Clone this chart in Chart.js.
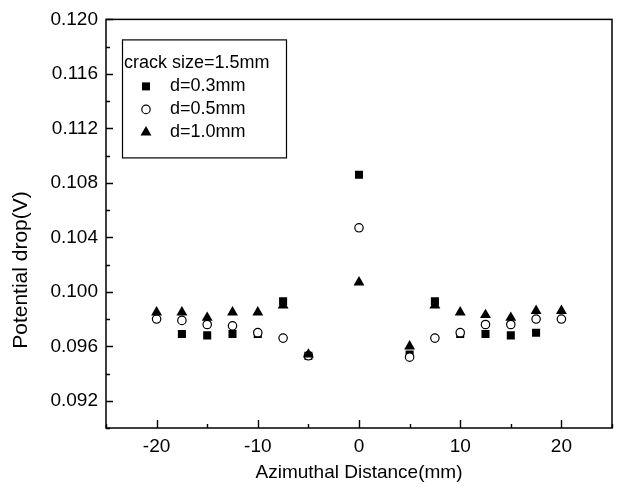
<!DOCTYPE html>
<html>
<head>
<meta charset="utf-8">
<script src="https://cdn.jsdelivr.net/npm/chart.js@4"></script>
<style>
  html, body { margin: 0; padding: 0; background: #fff; }
  #wrap { width: 622px; height: 497px; }
</style>
</head>
<body>
<div id="wrap"><canvas id="pdChart"></canvas></div>
<script>
// azimuthal positions (mm)
const distances = [-20, -17.5, -15, -12.5, -10, -7.5, -5, 0, 5, 7.5, 10, 12.5, 15, 17.5, 20]
// potential drop (V), crack size 1.5mm
const drop03 = [null, 0.0969, 0.0968, 0.0969, 0.0969, 0.0993, 0.0953, 0.1086, 0.0954, 0.0993, 0.0969, 0.0969, 0.0968, 0.0970, null]
const drop05 = [0.0980, 0.0979, 0.0976, 0.0975, 0.0970, 0.0966, 0.0953, 0.1047, 0.0952, 0.0966, 0.0970, 0.0976, 0.0976, 0.0980, 0.0980]
const drop10 = [0.0985, 0.0985, 0.0981, 0.0985, 0.0985, 0.0990, 0.0954, 0.1007, 0.0960, 0.0990, 0.0985, 0.0983, 0.0981, 0.0986, 0.0986]

const legendTitle = 'crack size=1.5mm'
const seriesLabels = ['d=0.3mm', 'd=0.5mm', 'd=1.0mm']
const xTitle = 'Azimuthal Distance(mm)'
const yTitle = 'Potential drop(V)'

const FONT = '"Liberation Sans", Arial, Helvetica, sans-serif'

function toPoints(values) {
  return distances.map((x, i) => ({ x: x, y: values[i] }))
}

function isMajorY(v) {
  return Math.round(v * 1000) % 4 === 0
}
function isMajorX(v) {
  return Math.round(v) % 10 === 0
}

// draw a marker shape the same way for legend rows
function drawMarker(ctx, style, x, y) {
  ctx.save()
  ctx.fillStyle = '#000'
  ctx.strokeStyle = '#000'
  ctx.lineWidth = 1.2
  ctx.beginPath()
  if (style === 'rect') {
    ctx.rect(x - 4, y - 4, 8, 8)
    ctx.fill()
  } else if (style === 'circle') {
    ctx.arc(x, y, 4.2, 0, Math.PI * 2)
    ctx.fillStyle = '#fff'
    ctx.fill()
    ctx.stroke()
  } else {
    const r = 6.3
    ctx.moveTo(x, y - r)
    ctx.lineTo(x + r * Math.sin(2 * Math.PI / 3), y + r / 2)
    ctx.lineTo(x - r * Math.sin(2 * Math.PI / 3), y + r / 2)
    ctx.closePath()
    ctx.fill()
  }
  ctx.restore()
}

// frame, inward tick marks, y title and the boxed legend
const framePlugin = {
  id: 'framePlugin',
  afterDraw(chart) {
    const { ctx, chartArea } = chart
    const xs = chart.scales.x
    const ys = chart.scales.y
    ctx.save()
    ctx.strokeStyle = '#000'
    ctx.lineWidth = 1.5
    ctx.strokeRect(chartArea.left, chartArea.top, chartArea.right - chartArea.left, chartArea.bottom - chartArea.top)

    ctx.lineWidth = 1.4
    ctx.beginPath()
    ys.ticks.forEach((t) => {
      const py = Math.round(ys.getPixelForValue(t.value)) + 0.5
      const len = isMajorY(t.value) ? 7 : 4
      ctx.moveTo(chartArea.left, py)
      ctx.lineTo(chartArea.left + len, py)
    })
    xs.ticks.forEach((t) => {
      const px = Math.round(xs.getPixelForValue(t.value)) + 0.5
      const len = isMajorX(t.value) ? 8 : 4
      ctx.moveTo(px, chartArea.bottom)
      ctx.lineTo(px, chartArea.bottom - len)
    })
    ctx.stroke()

    // y title sits lower than centre in the original
    ctx.fillStyle = '#000'
    ctx.font = '21px ' + FONT
    ctx.textAlign = 'center'
    ctx.textBaseline = 'middle'
    ctx.translate(21, ys.getPixelForValue(0.1016))
    ctx.rotate(-Math.PI / 2)
    ctx.fillText(yTitle, 0, 0)
    ctx.setTransform(1, 0, 0, 1, 0, 0)

    // legend box
    const bx = chartArea.left + 16
    const by = chartArea.top + 20
    const bw = 164
    const bh = 118
    ctx.fillStyle = '#fff'
    ctx.fillRect(bx, by, bw, bh)
    ctx.lineWidth = 1.2
    ctx.strokeRect(bx + 0.5, by + 0.5, bw, bh)

    ctx.fillStyle = '#000'
    ctx.font = '18px ' + FONT
    ctx.textBaseline = 'middle'
    ctx.textAlign = 'left'
    ctx.fillText(legendTitle, bx + 2, by + 24)
    const styles = ['rect', 'circle', 'triangle']
    seriesLabels.forEach((lab, i) => {
      const ry = by + 47 + i * 23
      drawMarker(ctx, styles[i], bx + 24, ry)
      ctx.fillText(lab, bx + 48, ry)
    })
    ctx.restore()
  }
}

const ctx = document.getElementById('pdChart')

new Chart(ctx, {
  type: 'scatter',
  data: {
    datasets: [
      {
        label: seriesLabels[0],
        data: toPoints(drop03),
        pointStyle: 'rect',
        pointRadius: 5.7,
        pointBackgroundColor: '#000',
        pointBorderColor: '#000',
        pointBorderWidth: 0,
        order: 2
      },
      {
        label: seriesLabels[1],
        data: toPoints(drop05),
        pointStyle: 'circle',
        pointRadius: 4.2,
        pointBackgroundColor: '#fff',
        pointBorderColor: '#000',
        pointBorderWidth: 1.2,
        order: 1
      },
      {
        label: seriesLabels[2],
        data: toPoints(drop10),
        pointStyle: 'triangle',
        pointRadius: 6.3,
        pointBackgroundColor: '#000',
        pointBorderColor: '#000',
        pointBorderWidth: 0,
        order: 0
      }
    ]
  },
  options: {
    responsive: true,
    maintainAspectRatio: false,
    animation: false,
    layout: {
      padding: { top: 18, right: 10, left: 0, bottom: 0 }
    },
    plugins: {
      legend: { display: false },
      tooltip: { enabled: false }
    },
    scales: {
      x: {
        type: 'linear',
        min: -25,
        max: 25,
        border: { display: false },
        grid: { display: false, drawTicks: false },
        ticks: {
          stepSize: 5,
          autoSkip: false,
          maxRotation: 0,
          padding: 7,
          color: '#000',
          font: { family: FONT, size: 19 },
          callback: function (value) {
            return isMajorX(value) ? String(value) : ''
          }
        },
        title: {
          display: true,
          text: xTitle,
          color: '#000',
          font: { family: FONT, size: 19 },
          padding: { top: 0, bottom: 13 }
        },
        afterFit: function (scale) {
          scale.height = 69
        }
      },
      y: {
        type: 'linear',
        min: 0.09,
        max: 0.12,
        border: { display: false },
        grid: { display: false, drawTicks: false },
        ticks: {
          stepSize: 0.002,
          autoSkip: false,
          padding: 8,
          color: '#000',
          font: { family: FONT, size: 19 },
          callback: function (value) {
            return isMajorY(value) ? value.toFixed(3) : ''
          }
        },
        title: { display: false },
        afterFit: function (scale) {
          scale.width = 106
        }
      }
    }
  },
  plugins: [framePlugin]
})
</script>
</body>
</html>
